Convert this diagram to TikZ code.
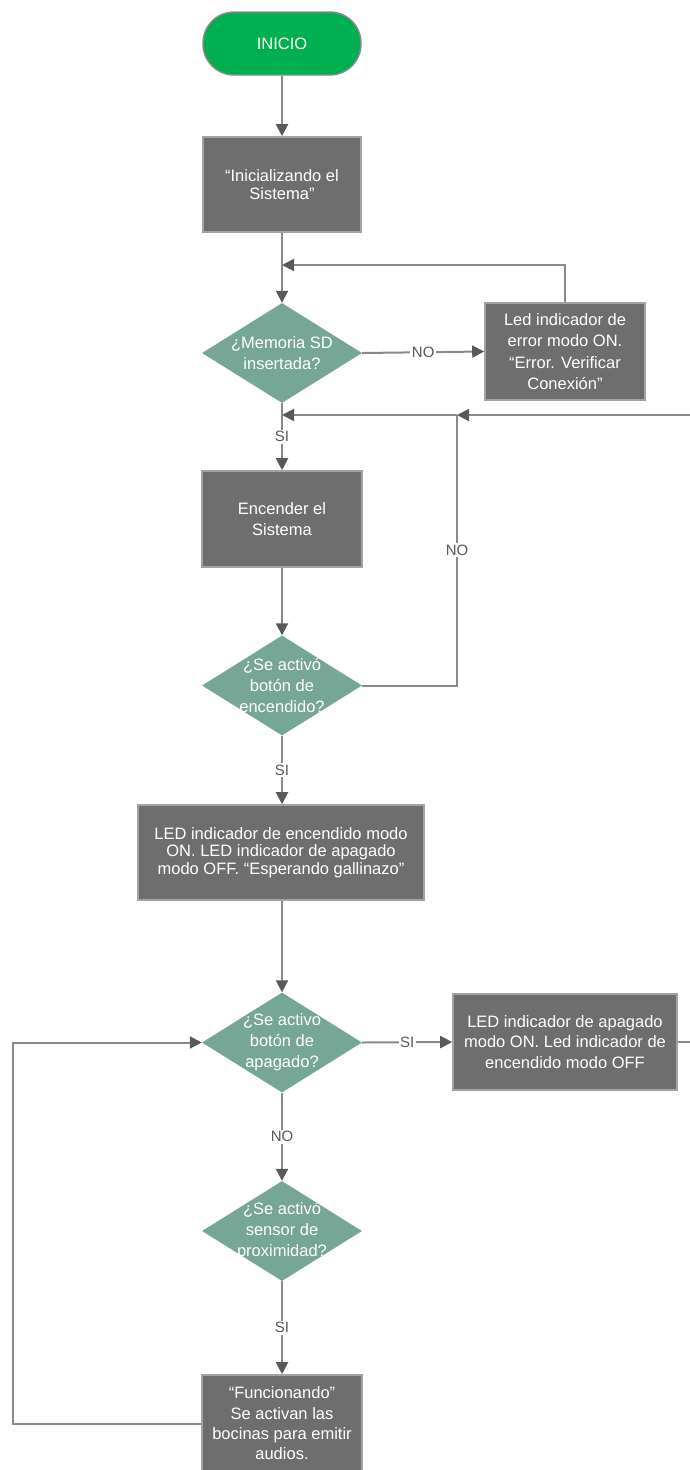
\documentclass[tikz,border=0pt]{standalone}
\usepackage{fontspec}
\setmainfont{Liberation Sans}
\usetikzlibrary{shapes.geometric,arrows.meta}
\definecolor{boxgray}{HTML}{6E6E6E}
\definecolor{boxedge}{HTML}{A3A3A3}
\definecolor{dia}{HTML}{76A696}
\definecolor{startgreen}{HTML}{00B050}
\definecolor{linegray}{HTML}{8A8A8A}
\definecolor{tipgray}{HTML}{595959}
\definecolor{labgray}{HTML}{595959}
\begin{document}
\begin{tikzpicture}[x=1pt,y=-1pt,
  proc/.style={rectangle, fill=boxgray, draw=boxedge, line width=1.6pt, text=white,
    align=center, font=\fontsize{16.5}{20.5}\selectfont, inner sep=0pt},
  dec/.style={diamond, fill=dia, draw=none, inner sep=0pt,
    minimum width=160pt, minimum height=100pt},
  dectext/.style={text=white, align=center, font=\fontsize{16.5}{20.8}\selectfont},
  startnode/.style={rectangle, rounded corners=31pt, fill=startgreen, draw=linegray,
    line width=1.4pt, text=white, font=\fontsize{16.5}{20}\selectfont,
    minimum width=158pt, minimum height=63pt},
  conn/.style={draw=linegray, line width=2pt},
  arr/.style={conn, -{Triangle[length=12pt,width=12pt,color=tipgray]}},
  lab/.style={fill=white, text=labgray, font=\fontsize{15}{18}\selectfont, inner sep=1.5pt}
]
\path[use as bounding box] (0,0) rectangle (690,1470);
\clip (0,0) rectangle (690,1470);

% nodes
\node[startnode] (start) at (282,43.5) {INICIO};
\node[proc, minimum width=158pt, minimum height=95pt, font=\fontsize{16.5}{17.5}\selectfont] (init) at (282,184.5) {“Inicializando el\\Sistema”};
\node[dec] (d1) at (282,353) {};
\node[dectext] at (d1.center) {¿Memoria SD\\insertada?};
\node[proc, minimum width=160pt, minimum height=97pt, font=\fontsize{16.5}{21.5}\selectfont] (err) at (565,351.5) {Led indicador de\\error modo ON.\\“Error. Verificar\\Conexión”};
\node[proc, minimum width=160pt, minimum height=96pt, font=\fontsize{16.5}{21.7}\selectfont] (enc) at (282,519) {Encender el\\Sistema};
\node[dec] (d2) at (282,685.5) {};
\node[dectext] at (d2.center) {¿Se activó\\botón de\\encendido?};
\node[proc, minimum width=286pt, minimum height=95pt, font=\fontsize{16.5}{17.7}\selectfont] (b3) at (281,852.5) {LED indicador de encendido modo\\ON. LED indicador de apagado\\modo OFF. “Esperando gallinazo”};
\node[dec] (d3) at (282,1042.5) {};
\node[dectext] at (d3.center) {¿Se activo\\botón de\\apagado?};
\node[proc, minimum width=224pt, minimum height=96pt, font=\fontsize{16.5}{20.5}\selectfont] (b4) at (565,1042) {LED indicador de apagado\\modo ON. Led indicador de\\encendido modo OFF};
\node[dec] (d4) at (282,1231) {};
\node[dectext] at (d4.center) {¿Se activó\\sensor de\\proximidad?};
\node[proc, minimum width=160pt, minimum height=97pt, font=\fontsize{16.5}{20.3}\selectfont] (last) at (282,1423.5) {“Funcionando”\\Se activan las\\bocinas para emitir\\audios.};

% helper coordinates
\coordinate (c265) at (282,265);
\coordinate (j0) at (282,415);
\coordinate (j1) at (457,415);
\coordinate (rtop) at (700,415);
\coordinate (rbot) at (700,1042);
\coordinate (lbot) at (13,1423.5);
\coordinate (ltop) at (13,1042.5);

% connectors
\draw[arr] (start.south) -- (init.north);
\draw[arr] (init.south) -- (d1.north);
\draw[arr] (err.north) |- (c265);
\draw[arr] (d1.east) -- node[lab]{NO} (err.west);
\draw[arr] (d1.south) -- node[lab]{SI} (enc.north);
\draw[conn] (d2.east) -| node[lab, pos=0.75]{NO} (j1);
\draw[arr] (j1) -- (j0);
\draw[arr] (b4.east) -- (rbot) -- (rtop) -- (j1);
\draw[arr] (enc.south) -- (d2.north);
\draw[arr] (d2.south) -- node[lab]{SI} (d2.south |- b3.north);
\draw[arr] (b3.south -| d3.north) -- (d3.north);
\draw[arr] (d3.east) -- node[lab]{SI} (b4.west);
\draw[arr] (d3.south) -- node[lab]{NO} (d4.north);
\draw[arr] (d4.south) -- node[lab]{SI} (last.north);
\draw[arr] (last.west) -- (lbot) -- (ltop) -- (d3.west);
\end{tikzpicture}
\end{document}
